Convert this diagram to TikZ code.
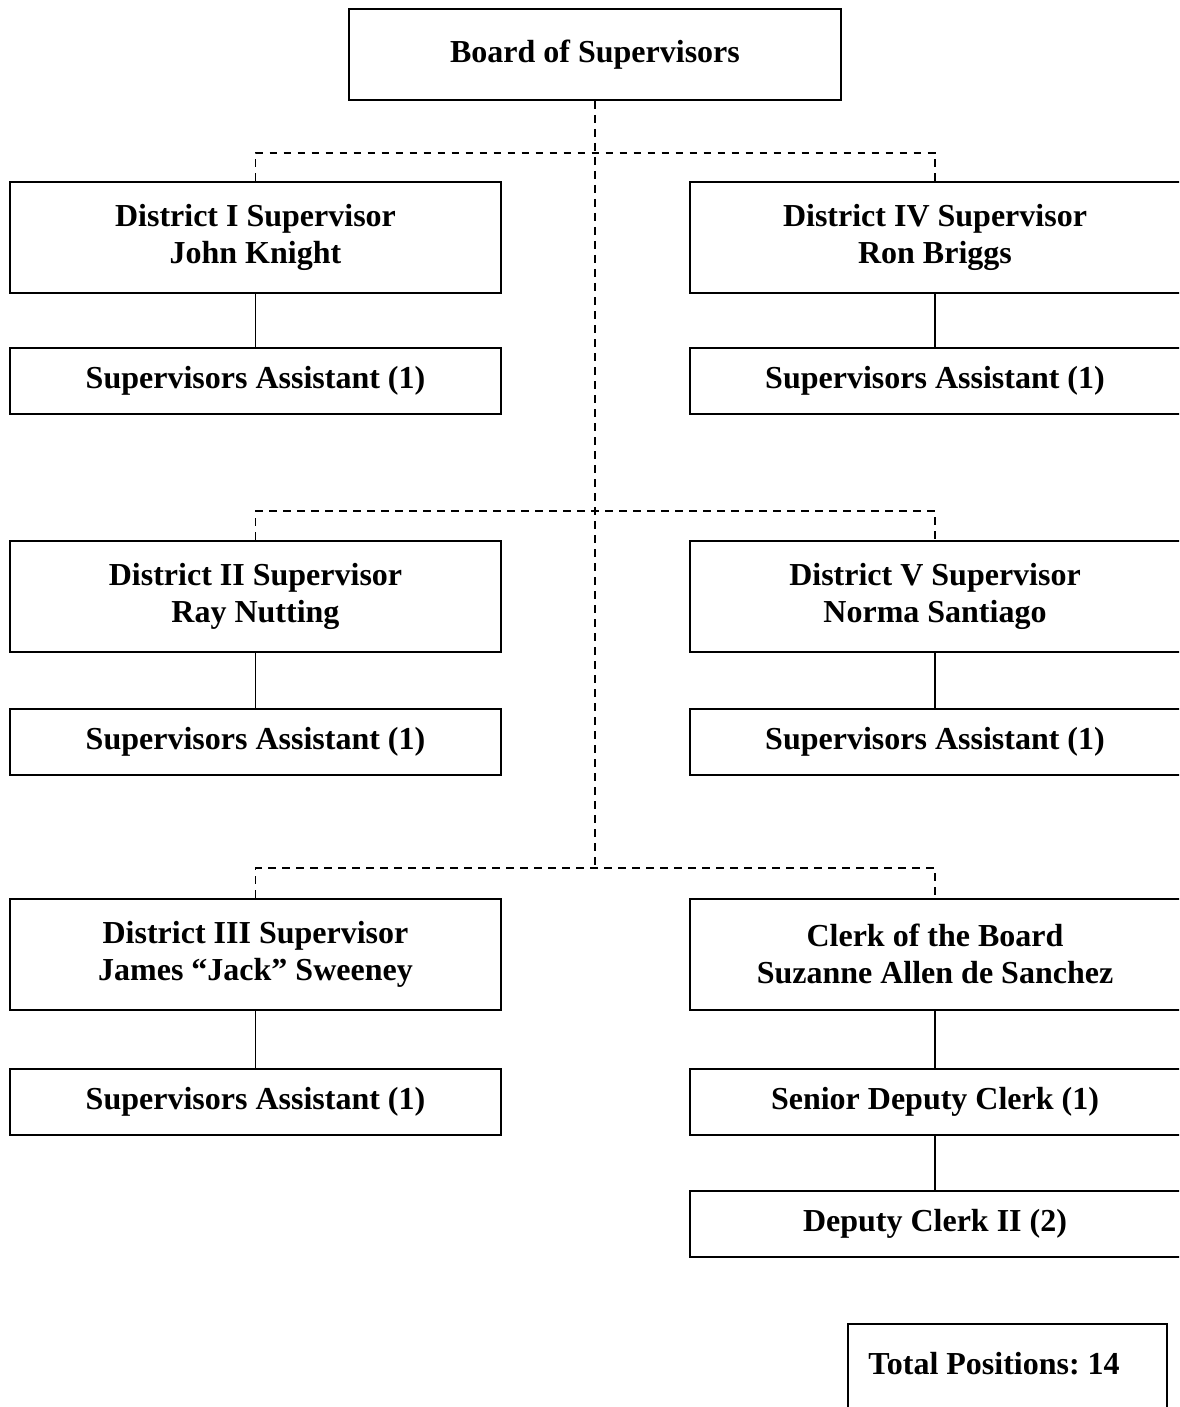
\documentclass[tikz,border=0pt]{standalone}
\usepackage{fontspec}
\setmainfont{Liberation Serif}
\usetikzlibrary{positioning}
\usetikzlibrary{calc}
\frenchspacing
\begin{document}
\begin{tikzpicture}[x=0.5pt, y=-0.5pt,
        box/.style={rectangle, draw=black, line width=1pt, align=center, font=\fontsize{16}{18.5}\selectfont\bfseries, inner sep=0pt},
        board/.style={box, minimum width=246pt, minimum height=45.5pt},
        super/.style={box, minimum width=245.5pt, minimum height=55.5pt},
        staff/.style={box, minimum width=245.5pt, minimum height=33pt},
        link/.style={draw=black, line width=0.8pt},
        dashlink/.style={draw=black, line width=0.9pt, dash pattern=on 3.8pt off 3.2pt}]
            \clip (0,0) rectangle (1179,1407);
            \useasboundingbox (0,0) rectangle (1179,1407);
            \node[board] (board) at (595,54.5) {Board of Supervisors};

            \node[super] (d_1) at (255.5,237.5) {District I Supervisor\\John Knight};
            \node[super] (d_4) at (935,237.5) {District IV Supervisor\\Ron Briggs};
            \node[staff] (a_1) at (255.5,381) {Supervisors Assistant (1)};
            \node[staff] (a_4) at (935,381) {Supervisors Assistant (1)};

            \node[super] (d_2) at (255.5,596) {District II Supervisor\\Ray Nutting};
            \node[super] (d_5) at (935,596) {District V Supervisor\\Norma Santiago};
            \node[staff] (a_2) at (255.5,742) {Supervisors Assistant (1)};
            \node[staff] (a_5) at (935,742) {Supervisors Assistant (1)};

            \node[super] (d_3) at (255.5,954) {District III Supervisor\\James ``Jack'' Sweeney};
            \node[super] (clerk) at (935,954) {Clerk of the Board\\Suzanne Allen de Sanchez};
            \node[staff] (a_3) at (255.5,1101.5) {Supervisors Assistant (1)};
            \node[staff] (senior) at (935,1101.5) {Senior Deputy Clerk (1)};
            \node[staff] (deputy) at (935,1224) {Deputy Clerk II (2)};

            \node[box, anchor=north west, minimum width=159.5pt, minimum height=80pt] (total) at (847,1323) {};
            \node[font=\fontsize{16}{18.5}\selectfont\bfseries, anchor=west, inner sep=0pt] (total_label) at (868,1364) {Total Positions: 14};

            \coordinate (bus_1) at (595,153);
            \coordinate (bus_2) at (595,511);
            \coordinate (bus_3) at (595,868);

            \draw[dashlink] (board.south) -- (bus_3);
            \draw[dashlink] (d_1.north) -- (d_1.north |- bus_1) -| (d_4.north);
            \draw[dashlink] (d_2.north) -- (d_2.north |- bus_2) -| (d_5.north);
            \draw[dashlink] (d_3.north) -- (d_3.north |- bus_3) -| (clerk.north);

            \draw[link] (d_1) -- (a_1);
            \draw[link] (d_4) -- (a_4);
            \draw[link] (d_2) -- (a_2);
            \draw[link] (d_5) -- (a_5);
            \draw[link] (d_3) -- (a_3);
            \draw[link] (clerk) -- (senior);
            \draw[link] (senior) -- (deputy);
        \end{tikzpicture}
\end{document}
